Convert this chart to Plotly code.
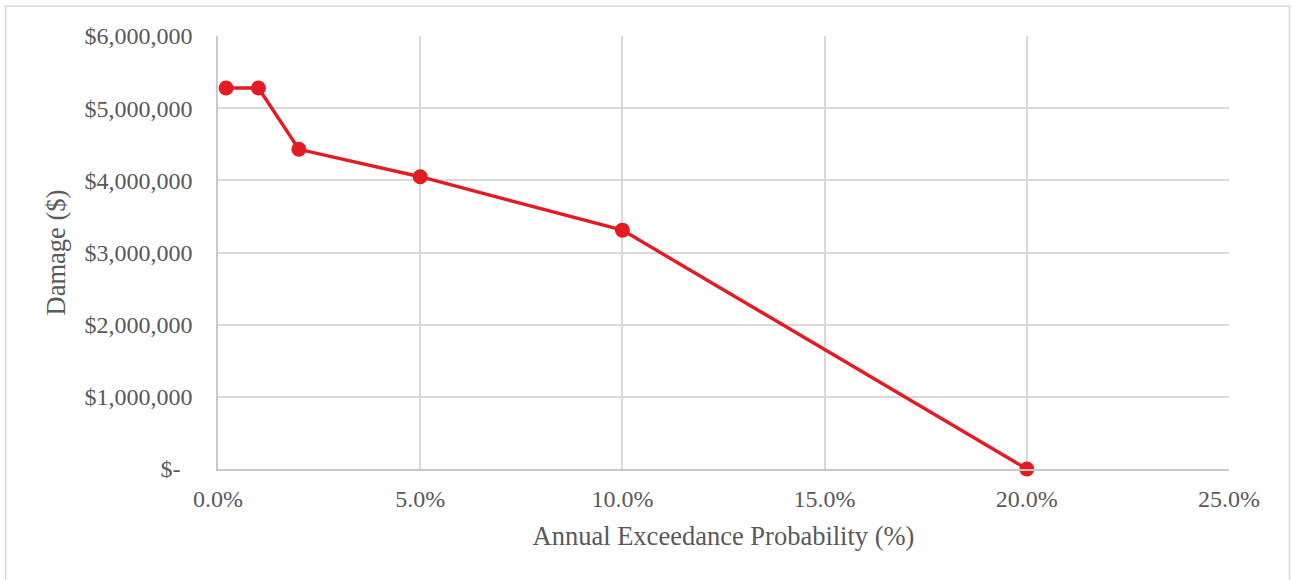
import plotly.graph_objects as go

# Annual exceedance probability (%) and associated damage ($)
aep_pct = [0.2, 1.0, 2.0, 5.0, 10.0, 20.0]
damage = [5280000, 5280000, 4430000, 4050000, 3310000, 0]

y_tickvals = [0, 1000000, 2000000, 3000000, 4000000, 5000000, 6000000]
y_ticktext = ["$-\u00a0\u00a0", "$1,000,000", "$2,000,000", "$3,000,000",
              "$4,000,000", "$5,000,000", "$6,000,000"]
x_tickvals = [0, 5, 10, 15, 20, 25]
x_ticktext = ["0.0%", "5.0%", "10.0%", "15.0%", "20.0%", "25.0%"]

RED = "#e31b23"
GRID = "#d9d9d9"
TEXT = "#595959"
FONT = "Liberation Serif, Times New Roman, serif"

fig = go.Figure()
fig.add_trace(go.Scatter(
    x=aep_pct, y=damage, mode="lines+markers",
    line=dict(color=RED, width=3.4),
    marker=dict(color=RED, size=15),
    showlegend=False, cliponaxis=False,
))

# outer chart frame
fig.add_shape(type="rect", xref="paper", yref="paper",
              x0=-0.2102, x1=1.0598, y0=-0.30, y1=1.0693,
              line=dict(color="#d9d9d9", width=1.5), fillcolor="rgba(0,0,0,0)",
              layer="below")

fig.update_layout(
    width=1292, height=580,
    margin=dict(l=218, r=63, t=36, b=111),
    paper_bgcolor="white", plot_bgcolor="white",
    font=dict(family=FONT, color=TEXT, size=24),
    xaxis=dict(
        range=[0, 25], tickvals=x_tickvals, ticktext=x_ticktext,
        showgrid=True, gridcolor=GRID, gridwidth=1.5,
        showline=True, linecolor="#c8c8c8", linewidth=1.5,
        zeroline=False, ticks="", ticklabelstandoff=7,
        tickfont=dict(size=24, color=TEXT),
        title=dict(text="Annual Exceedance Probability (%)",
                   font=dict(size=26.5, color=TEXT), standoff=16),
    ),
    yaxis=dict(
        range=[0, 6000000], tickvals=y_tickvals, ticktext=y_ticktext,
        showgrid=True, gridcolor=GRID, gridwidth=1.5,
        showline=True, linecolor="#c8c8c8", linewidth=1.5,
        zeroline=False, ticks="", ticklabelstandoff=19,
        tickfont=dict(size=24, color=TEXT),
        title=dict(text="Damage ($)", font=dict(size=26.5, color=TEXT), standoff=11),
    ),
)

fig.write_html("out.html")
